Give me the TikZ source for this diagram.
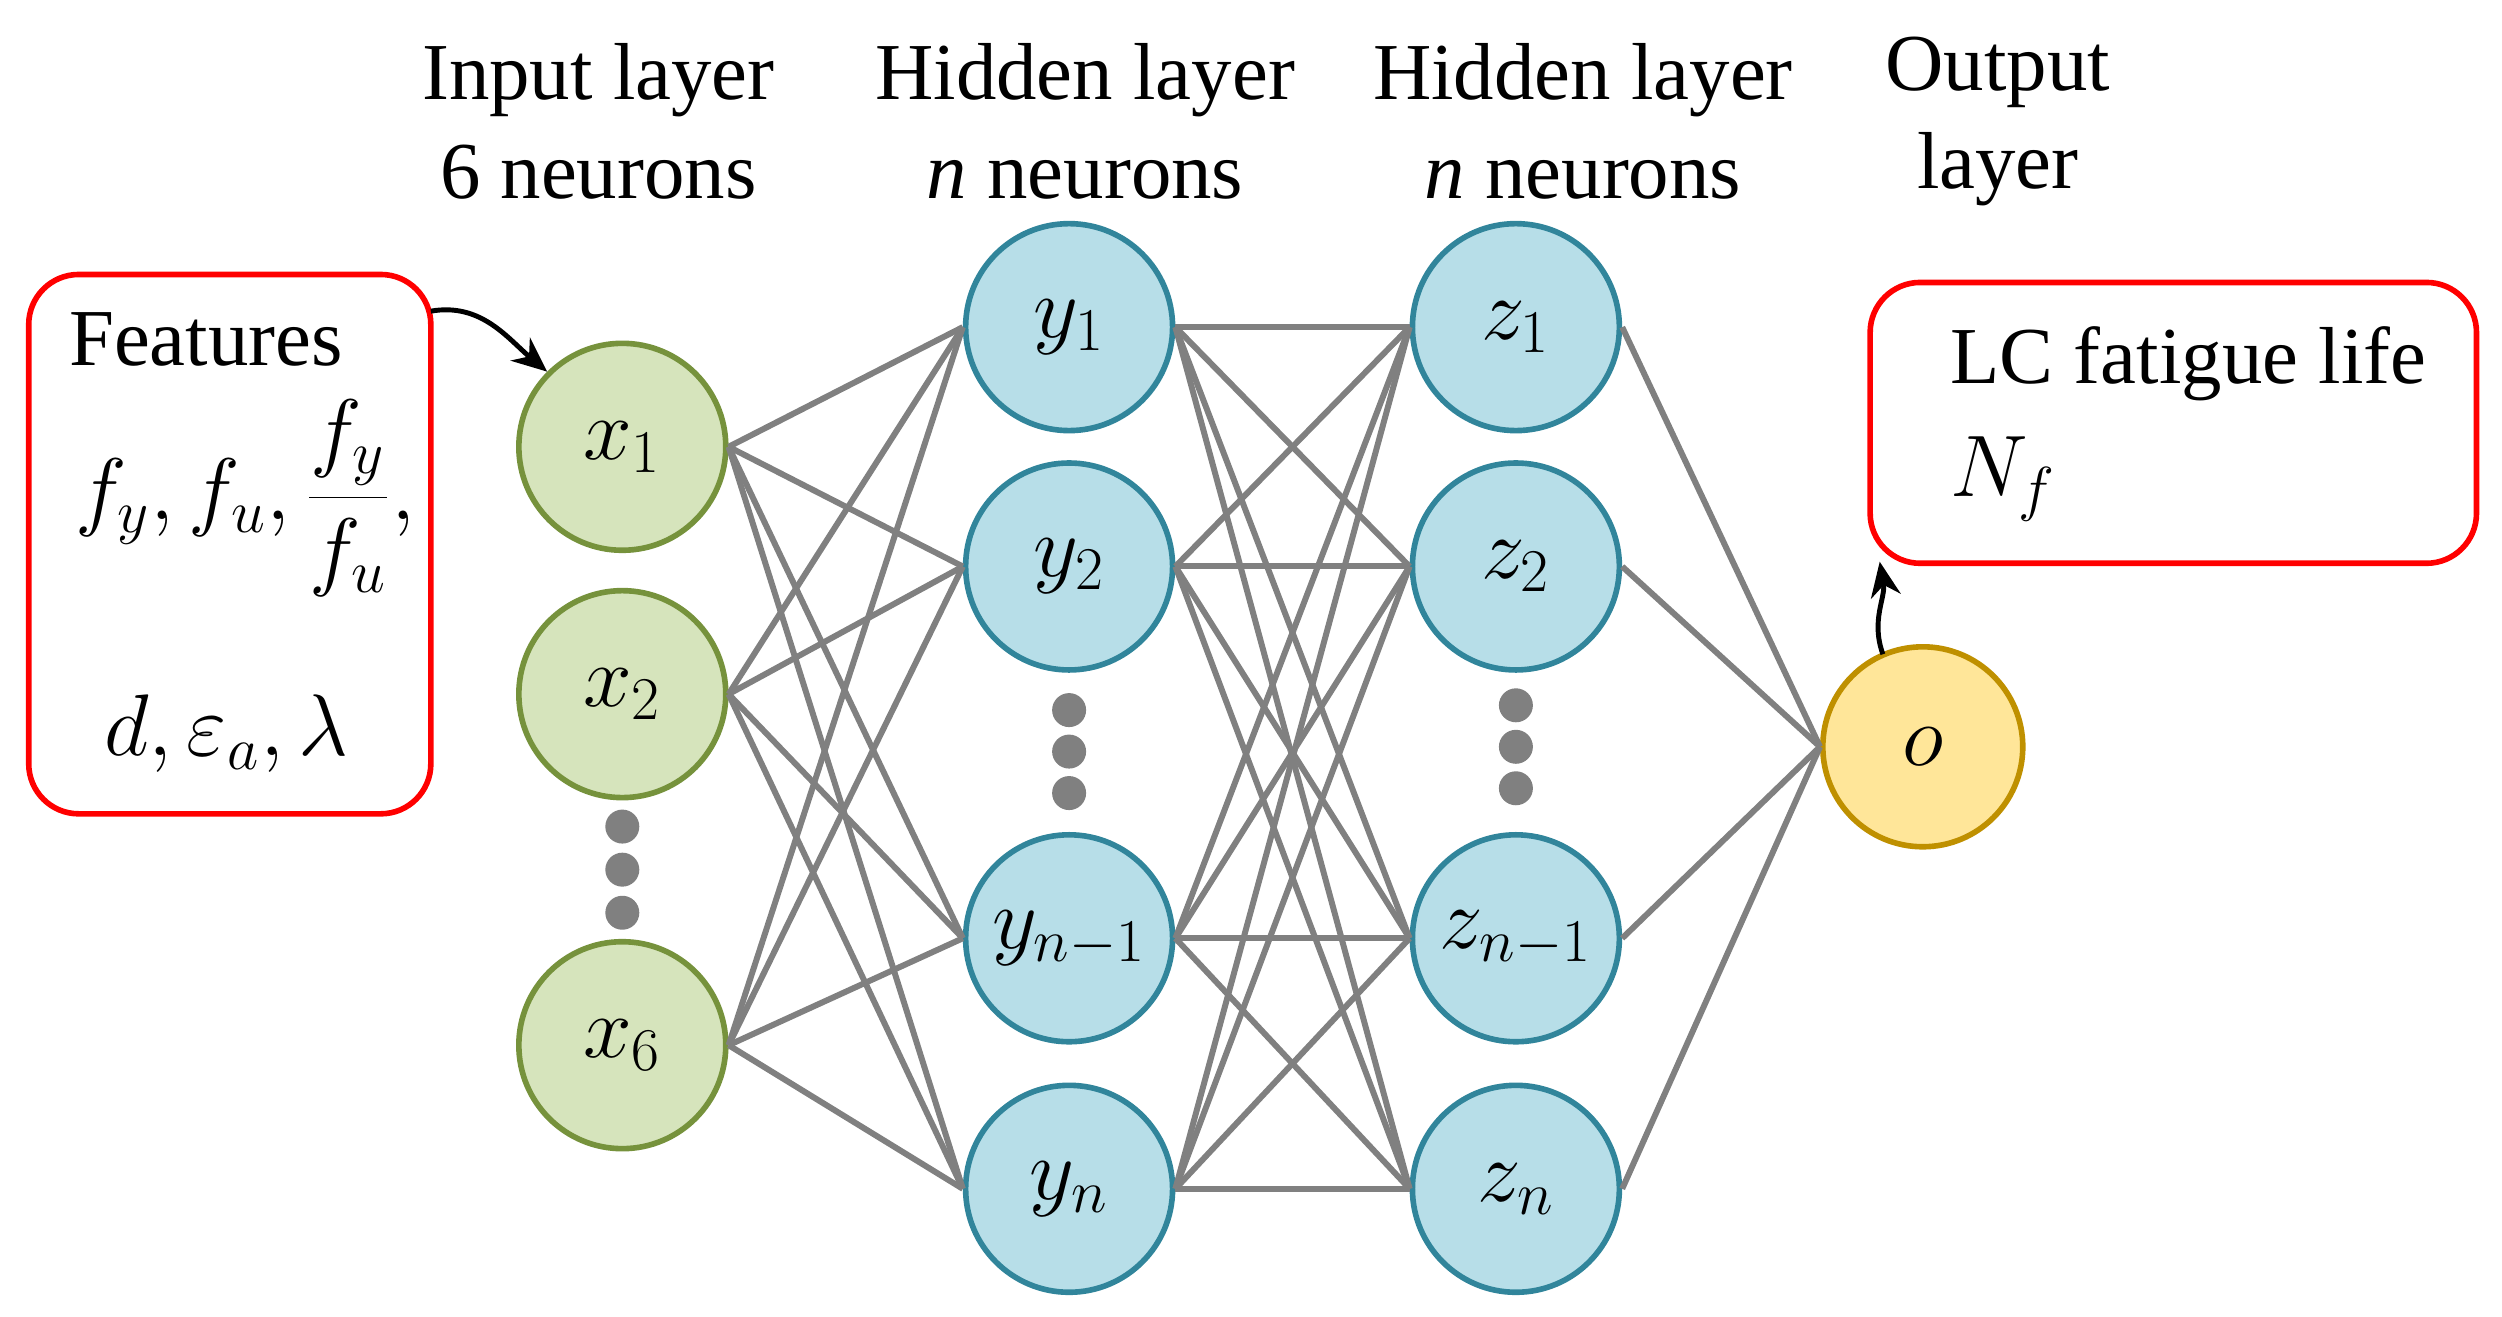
\documentclass[tikz,border=0pt]{standalone}
\usepackage{fontspec}
\setmainfont{Liberation Serif}
\usetikzlibrary{arrows.meta}
\begin{document}
\fontsize{23}{28}\selectfont
\begin{tikzpicture}[x=0.01596cm,y=-0.01596cm,
  neu/.style={circle,line width=1.6pt,minimum size=2.07cm,inner sep=0pt},
  inn/.style={neu,fill={rgb,255:red,214;green,228;blue,188},draw={rgb,255:red,118;green,146;blue,60}},
  hid/.style={neu,fill={rgb,255:red,183;green,222;blue,232},draw={rgb,255:red,49;green,133;blue,155}},
  outn/.style={neu,minimum size=2.0cm,fill={rgb,255:red,255;green,230;blue,153},draw={rgb,255:red,191;green,144;blue,0}},
  dot/.style={circle,fill={rgb,255:red,128;green,128;blue,128},inner sep=0pt,minimum size=0.34cm},
  edge/.style={draw={rgb,255:red,128;green,128;blue,128},line width=1.7pt},
  box/.style={draw=red,line width=1.6pt,rounded corners=0.5cm},
  arr/.style={-{Stealth[length=0.35cm,width=0.3cm]},line width=1.4pt}]
\useasboundingbox (0,0) rectangle (1568,825);
% headings
\node (h1) at (375,76) [align=center] {Input layer\\[0pt]6 neurons};
\node (h2) at (680,76) [align=center] {Hidden layer\\[0pt]\textit{n} neurons};
\node (h3) at (992,76) [align=center] {Hidden layer\\[0pt]\textit{n} neurons};
\node (h4) at (1252,76) [align=center] {Output\\[0pt]layer};
% nodes
\node[inn] (x1) at (390,280) {$x_1$};
\node[inn] (x2) at (390,435) {$x_2$};
\node[inn] (x6) at (390,655) {$x_6$};
\node[hid] (y1) at (670,205) {$y_1$};
\node[hid] (y2) at (670,355) {$y_2$};
\node[hid] (y3) at (670,588) {$y_{n-1}$};
\node[hid] (y4) at (670,745) {$y_n$};
\node[hid] (z1) at (950,205) {$z_1$};
\node[hid] (z2) at (950,355) {$z_2$};
\node[hid] (z3) at (950,588) {$z_{n-1}$};
\node[hid] (z4) at (950,745) {$z_n$};
\node[outn] (o) at (1205,468) {$o$};
\foreach \i/\yy in {a/518,b/545,c/572}{\node[dot] (dx\i) at (390,\yy) {};}
\foreach \i/\yy in {a/445,b/471,c/497}{\node[dot] (dy\i) at (670,\yy) {};}
\foreach \i/\yy in {a/442,b/468,c/494}{\node[dot] (dz\i) at (950,\yy) {};}
% edges
\foreach \a in {x1,x2,x6}{\foreach \b in {y1,y2,y3,y4}{\draw[edge] (\a.east) -- (\b.west);}}
\foreach \a in {y1,y2,y3,y4}{\foreach \b in {z1,z2,z3,z4}{\draw[edge] (\a.east) -- (\b.west);}}
\foreach \a in {z1,z2,z3,z4}{\draw[edge] (\a.east) -- (o.west);}
% boxes
\draw[box] (18,172) rectangle (270,510);
\node (ft) at (26,213) [anchor=west] {Features};
\node (f1) at (30,312) [anchor=west] {$f_y,f_u,\displaystyle\frac{f_y}{f_u},$};
\node (f2) at (48,460) [anchor=west] {$d,\varepsilon_a,\lambda$};
\draw[box] (1172,177) rectangle (1552,353);
\node (lc) at (1205,228) [anchor=west] {LC fatigue life};
\node (nf) at (1205,300) [anchor=west] {$N_f$};
\coordinate (fa) at (270,195);
\coordinate (la) at (1178,352);
\coordinate (ob) at (1180,410);
\draw[arr] (fa) to[out=10,in=140] (x1.north west);
\draw[arr] (ob) to[out=110,in=-80] (la);
\end{tikzpicture}
\end{document}
